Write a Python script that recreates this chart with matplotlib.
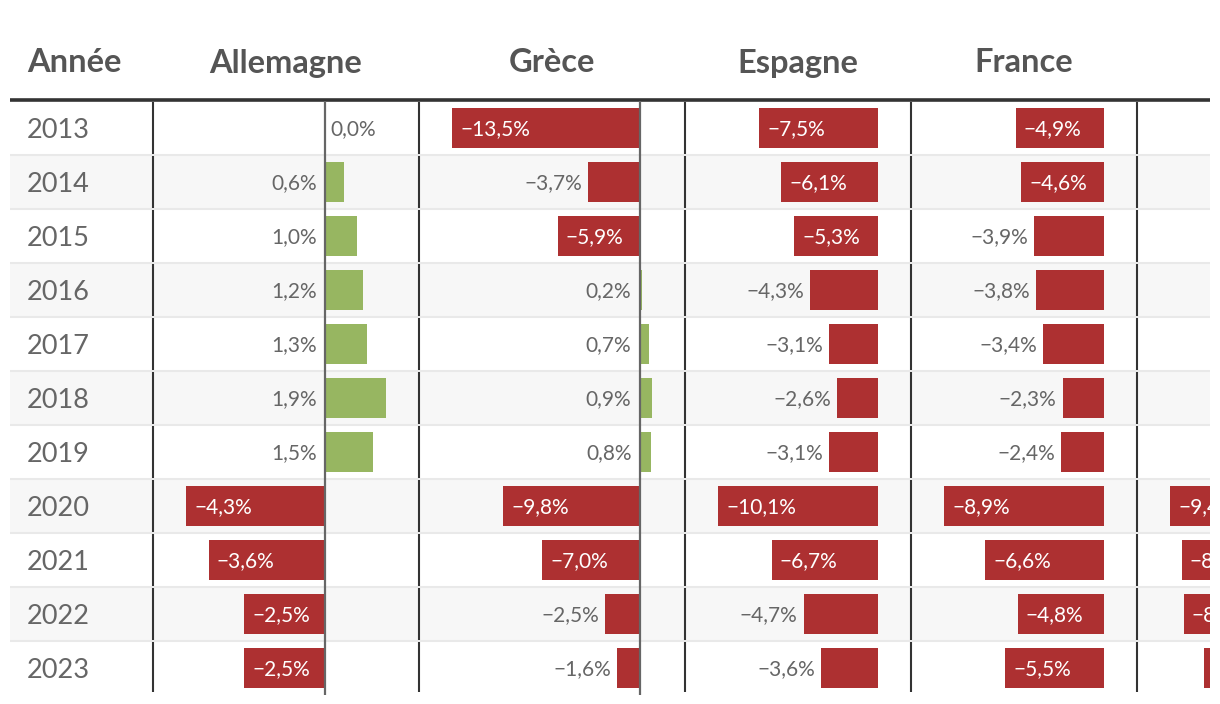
import matplotlib
matplotlib.use('Agg')
import matplotlib.pyplot as plt
from matplotlib.patches import Rectangle

# ---------------- data ----------------
years = [2013, 2014, 2015, 2016, 2017, 2018, 2019, 2020, 2021, 2022, 2023]
countries = ['Allemagne', 'Grèce', 'Espagne', 'France', 'Italie']
allemagne = [0.0, 0.6, 1.0, 1.2, 1.3, 1.9, 1.5, -4.3, -3.6, -2.5, -2.5]
grece = [-13.5, -3.7, -5.9, 0.2, 0.7, 0.9, 0.8, -9.8, -7.0, -2.5, -1.6]
espagne = [-7.5, -6.1, -5.3, -4.3, -3.1, -2.6, -3.1, -10.1, -6.7, -4.7, -3.6]
france = [-4.9, -4.6, -3.9, -3.8, -3.4, -2.3, -2.4, -8.9, -6.6, -4.8, -5.5]
italie = [-2.9, -3.0, -2.6, -2.4, -2.4, -2.2, -1.5, -9.4, -8.7, -8.6, -7.4]
series = [allemagne, grece, espagne, france, italie]
year_header = 'Année'

# ---------------- style ----------------
plt.rcParams['font.family'] = ['Lato', 'DejaVu Sans']
RED = '#ad3031'
GREEN = '#97b661'
TXT = '#555555'
BODY_TXT = '#666666'
W, H = 1220, 704
fig = plt.figure(figsize=(W / 100, H / 100), dpi=100)

left_edge = 10
right_edge = 1210
header_y = 63
line_y = 100
row_top = 101
row_h = 54
n = len(years)
col_edges = [153, 419, 685, 911, 1137, 1363]
pad = 33
bar_h = 40 / 54
inside_min_px = 78

bg = fig.add_axes([0, 0, 1, 1])
bg.set_xlim(0, W)
bg.set_ylim(H, 0)
bg.axis('off')

# row shading and separators
for i in range(n):
    top = row_top + i * row_h
    if i % 2 == 1:
        bg.add_patch(Rectangle((left_edge, top), W, row_h, color='#f7f7f7', lw=0, zorder=0))
    if i > 0:
        bg.hlines(top, left_edge, W, color='#e9e9e9', lw=1.5, zorder=1)

bg.hlines(line_y, left_edge, W, color='#333333', lw=2.6, zorder=3)

# vertical column lines
for x in col_edges[:-1]:
    for i in range(n):
        top = row_top + i * row_h
        bottom = top + row_h - (2 if i == n - 1 else 0)
        bg.vlines(x, top + 1, bottom - 1, color='#333333', lw=1.5, zorder=3)

# header (the last column's title lies beyond the visible area)
bg.text(27, header_y, year_header, ha='left', va='center', fontsize=23.5,
        fontweight='bold', color=TXT)
for c, l, r in zip(countries[:4], col_edges[:4], col_edges[1:5]):
    bg.text((l + r) / 2, header_y, c, ha='center', va='center', fontsize=23.5,
            fontweight='bold', color=TXT)

# years
for i, y in enumerate(years):
    bg.text(27, row_top + (i + 0.5) * row_h + 2, str(y), ha='left', va='center',
            fontsize=19.5, fontweight='normal', color=BODY_TXT)


def fmt(v):
    return f"{v:.1f}".replace('.', ',').replace('-', '\u2212') + '%'


px2pt = 72 / 100
total_h = n * row_h
for vals, l, r in zip(series, col_edges[:-1], col_edges[1:]):
    ax = fig.add_axes([l / W, 1 - (row_top + total_h) / H, (r - l) / W, total_h / H])
    ax.patch.set_alpha(0)
    ax.axis('off')
    dmin = min(min(vals), 0)
    dmax = max(max(vals), 0)
    scale = ((r - l) - 2 * pad) / (dmax - dmin)
    ax.set_xlim(dmin - pad / scale, dmax + pad / scale)
    ax.set_ylim(n - 0.5, -0.5)
    colors = [GREEN if v > 0 else RED for v in vals]
    ax.barh(range(n), vals, height=bar_h, color=colors, lw=0, zorder=2)
    if dmin < 0 < dmax:
        ax.axvline(0, color='#666666', lw=1.6, zorder=3)
    for i, v in enumerate(vals):
        plen = abs(v) * scale
        if v < 0 and plen >= inside_min_px:
            xy, off, ha, col = (v, i), 8, 'left', 'white'
        elif v < 0:
            xy, off, ha, col = (v, i), -6, 'right', BODY_TXT
        elif v > 0:
            xy, off, ha, col = (0, i), -8, 'right', BODY_TXT
        else:
            xy, off, ha, col = (0, i), 6, 'left', BODY_TXT
        ax.annotate(fmt(v), xy=xy, xytext=(off * px2pt, -1.5 * px2pt),
                    textcoords='offset points', ha=ha, va='center',
                    fontsize=15, fontweight='normal', color=col, zorder=4,
                    annotation_clip=False)

# chart area ends at the right edge
fig.patches.append(Rectangle((right_edge / W, 0), 1, 1, transform=fig.transFigure,
                             color='white', lw=0, zorder=100))

fig.savefig('out.png', dpi=100, facecolor='white')
